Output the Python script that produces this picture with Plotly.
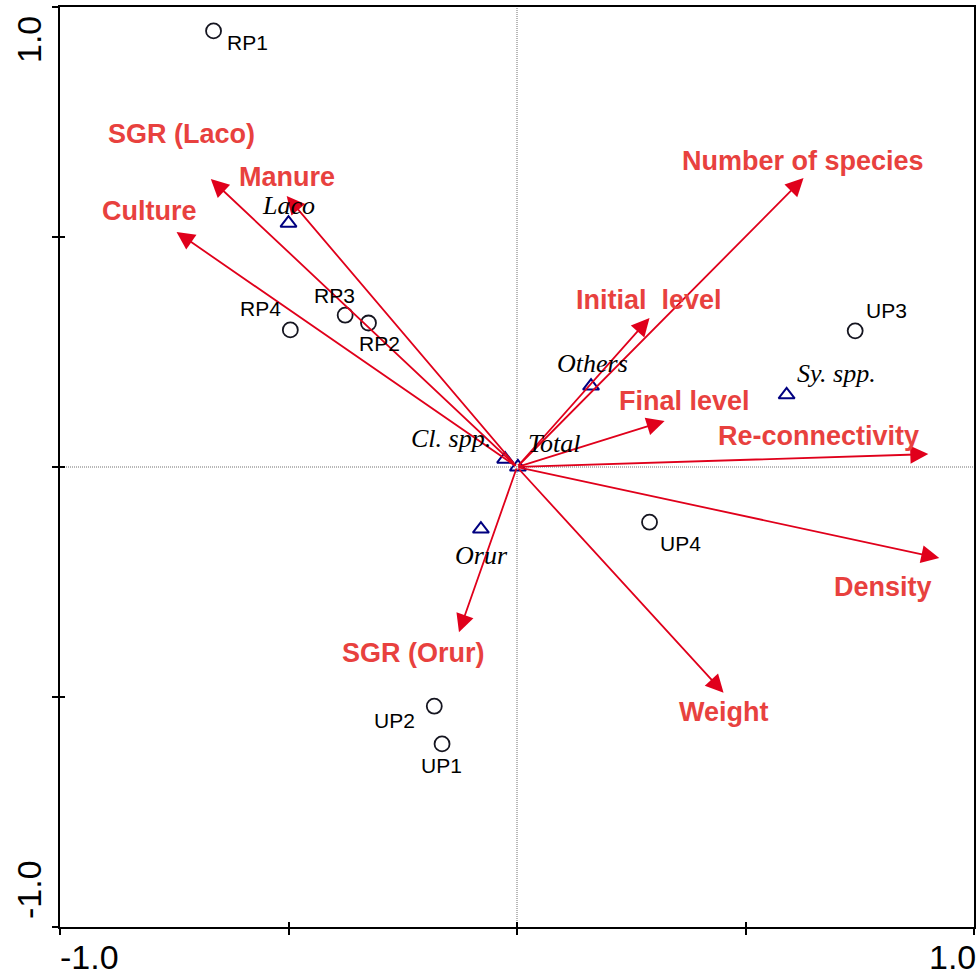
import plotly.graph_objects as go

# ---- ordination scores (axis 1, axis 2) ----
site_names = ["RP1", "RP2", "RP3", "RP4", "UP1", "UP2", "UP3", "UP4"]
site_x = [-0.664, -0.325, -0.376, -0.496, -0.164, -0.181, 0.740, 0.290]
site_y = [0.948, 0.313, 0.330, 0.298, -0.602, -0.520, 0.296, -0.120]

species_names = ["Laco", "Others", "Sy. spp.", "Cl. spp.", "Total", "Orur"]
species_x = [-0.500, 0.162, 0.590, -0.026, 0.002, -0.079]
species_y = [0.530, 0.176, 0.157, 0.017, 0.000, -0.135]

env_names = ["SGR (Laco)", "Manure", "Culture", "Number of species",
             "Initial  level", "Final level", "Re-connectivity",
             "Density", "Weight", "SGR (Orur)"]
env_x = [-0.670, -0.504, -0.745, 0.627, 0.290, 0.323, 0.900, 0.924, 0.452, -0.127]
env_y = [0.626, 0.589, 0.511, 0.628, 0.324, 0.100, 0.028, -0.198, -0.491, -0.359]

axis_ticks = [-1.0, -0.5, 0.0, 0.5, 1.0]
axis_tick_labels = ["-1.0", "1.0"]

# ---- label placement (pixel offsets from each mark) ----
site_label_shift = {"RP1": (34, -12), "RP2": (11, -20), "RP3": (-11, 20), "RP4": (-30, 21),
                    "UP1": (-1, -22), "UP2": (-40, -14), "UP3": (31, 20), "UP4": (31, -21)}
species_label_shift = {"Laco": (0, 18), "Others": (1, 23), "Sy. spp.": (50, 21),
                       "Cl. spp.": (-54, 21), "Total": (37, 24), "Orur": (1, -26)}
env_label_shift = {"SGR (Laco)": (-29, 45), "Manure": (0, 19), "Culture": (-27, 21),
                   "Number of species": (-1, 17), "Initial  level": (-1, 18),
                   "Final level": (20, 20), "Re-connectivity": (-110, 18),
                   "Density": (-56, -29), "Weight": (0, -19), "SGR (Orur)": (-45, -21)}

ARROW = "#e0001b"
ARROW_TEXT = "#e8413e"
SANS = "Liberation Sans, Arial, sans-serif"
SERIF = "Liberation Serif, Times New Roman, serif"

fig = go.Figure()

fig.add_trace(go.Scatter(
    x=site_x, y=site_y, mode="markers", xaxis="x", yaxis="y",
    marker=dict(symbol="circle-open", size=15, color="#151520",
                line=dict(width=1.8, color="#151520")),
    hoverinfo="text", text=site_names, showlegend=False))

fig.add_trace(go.Scatter(
    x=species_x, y=species_y, mode="markers", xaxis="x", yaxis="y",
    marker=dict(symbol="triangle-up-open", size=14, color="#000080",
                line=dict(width=2, color="#000080")),
    hoverinfo="text", text=species_names, showlegend=False))

annotations = []

# environmental vectors from the origin
for name, ex, ey in zip(env_names, env_x, env_y):
    annotations.append(dict(
        x=ex, y=ey, ax=0, ay=0, xref="x", yref="y", axref="x", ayref="y",
        text="", showarrow=True, arrowhead=2, arrowsize=2.0, arrowwidth=1.8,
        arrowcolor=ARROW, standoff=0, startstandoff=0))
    dx, dy = env_label_shift[name]
    annotations.append(dict(
        x=ex, y=ey, xref="x", yref="y", xshift=dx, yshift=dy,
        text="<b>" + name.replace("  ", "\u00a0 ") + "</b>", showarrow=False,
        xanchor="center", yanchor="middle",
        font=dict(family=SANS, size=27, color=ARROW_TEXT)))

for name, sx, sy in zip(site_names, site_x, site_y):
    dx, dy = site_label_shift[name]
    annotations.append(dict(
        x=sx, y=sy, xref="x", yref="y", xshift=dx, yshift=dy, text=name,
        showarrow=False, xanchor="center", yanchor="middle",
        font=dict(family=SANS, size=21, color="black")))

for name, px, py in zip(species_names, species_x, species_y):
    dx, dy = species_label_shift[name]
    annotations.append(dict(
        x=px, y=py, xref="x", yref="y", xshift=dx, yshift=dy,
        text="<i>" + name + "</i>", showarrow=False,
        xanchor="center", yanchor="middle",
        font=dict(family=SERIF, size=26, color="black")))

# end-of-axis labels, set inside the axis range
tick_font = dict(family=SANS, size=34, color="black")
annotations += [
    dict(x=axis_ticks[0], y=0, xref="x", yref="paper", text=axis_tick_labels[0],
         showarrow=False, xanchor="left", yanchor="top", yshift=-10, xshift=-1,
         borderpad=0, font=tick_font),
    dict(x=axis_ticks[-1], y=0, xref="x", yref="paper", text=axis_tick_labels[1],
         showarrow=False, xanchor="right", yanchor="top", yshift=-10, xshift=3,
         borderpad=0, font=tick_font),
    dict(x=0, y=axis_ticks[-1], xref="paper", yref="y", text=axis_tick_labels[1],
         showarrow=False, xanchor="center", yanchor="middle", textangle=-90,
         xshift=-31, yshift=-33, font=tick_font),
    dict(x=0, y=axis_ticks[0], xref="paper", yref="y", text=axis_tick_labels[0],
         showarrow=False, xanchor="center", yanchor="middle", textangle=-90,
         xshift=-31, yshift=37, font=tick_font),
]

# fine dotted cross-hair through the origin
shapes = [
    dict(type="line", xref="x", yref="paper", x0=0, x1=0, y0=0, y1=1,
         line=dict(color="#707070", width=1, dash="1px,1px"), layer="below"),
    dict(type="line", xref="paper", yref="y", x0=0, x1=1, y0=0, y1=0,
         line=dict(color="#707070", width=1, dash="1px,1px"), layer="below"),
]

axis_common = dict(range=[-1, 1], showgrid=False, zeroline=False,
                   tickvals=axis_ticks, showticklabels=False, fixedrange=True)

fig.update_layout(
    width=980, height=976,
    margin=dict(l=60, r=4, t=7, b=49, pad=0),
    paper_bgcolor="white", plot_bgcolor="white",
    xaxis=dict(**axis_common, showline=True, mirror=True, linewidth=2,
               linecolor="black", ticks="outside", ticklen=6, tickwidth=1.5,
               tickcolor="black"),
    yaxis=dict(**axis_common, showline=True, mirror=True, linewidth=2,
               linecolor="black", ticks="outside", ticklen=6, tickwidth=1.5,
               tickcolor="black"),
    # inner halves of the crossing tick marks
    xaxis2=dict(**axis_common, overlaying="x", side="bottom", anchor="y",
                showline=False, ticks="inside", ticklen=5, tickwidth=1.5,
                tickcolor="black"),
    yaxis2=dict(**axis_common, overlaying="y", side="left", anchor="x",
                showline=False, ticks="inside", ticklen=5, tickwidth=1.5,
                tickcolor="black"),
    annotations=annotations,
    shapes=shapes,
    showlegend=False,
)

# invisible trace so the overlay axes are rendered
fig.add_trace(go.Scatter(x=[None], y=[None], xaxis="x2", yaxis="y2",
                         showlegend=False, hoverinfo="skip"))

fig.write_html("out.html")
